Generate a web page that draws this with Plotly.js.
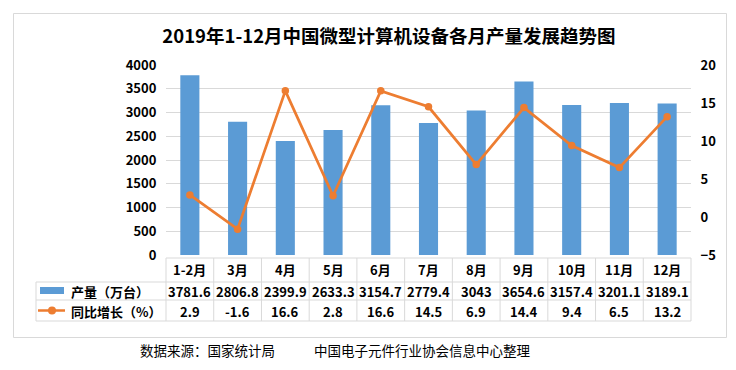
<!DOCTYPE html>
<html><head><meta charset="utf-8">
<script src="https://cdn.plot.ly/plotly-3.0.1.min.js"></script>
<style>html,body{margin:0;padding:0;background:#fff}#c{width:736px;height:370px}</style>
</head><body><div id="c"></div>
<script>
const categories = ['1-2月','3月','4月','5月','6月','7月','8月','9月','10月','11月','12月'];
const output = [3781.6, 2806.8, 2399.9, 2633.3, 3154.7, 2779.4, 3043, 3654.6, 3157.4, 3201.1, 3189.1];
const growth = [2.9, -1.6, 16.6, 2.8, 16.6, 14.5, 6.9, 14.4, 9.4, 6.5, 13.2];
const outputLabel = '产量（万台）';
const growthLabel = '同比增长（%）';
const titleText = '2019年1-12月中国微型计算机设备各月产量发展趋势图';
const sourceLeft = '数据来源：国家统计局';
const sourceRight = '中国电子元件行业协会信息中心整理';

const W = 736, H = 370, L = 166, R = 691, T = 65, B = 255;
const px = x => (x - L) / (R - L);
const py = y => (B - y) / (B - T);
const FONT = '"Noto Sans CJK SC", "Noto Sans", sans-serif';
const BLUE = '#5B9BD5', ORANGE = '#ED7D31', GRID = '#D9D9D9';

const shapes = [];
const line = (x0, y0, x1, y1, color, w) => shapes.push({type:'line', xref:'paper', yref:'paper',
  x0:px(x0), y0:py(y0), x1:px(x1), y1:py(y1), line:{color:color||GRID, width:w||1}, layer:'above'});
// outer frame
shapes.push({type:'rect', xref:'paper', yref:'paper', x0:px(13.5), y0:py(13.5), x1:px(726.5), y1:py(337.5),
  line:{color:GRID, width:1}, layer:'below'});
// table lines
const colW = (R - L) / categories.length;
line(L, 258, R, 258);
line(36, 282, R, 282);
line(36, 300, R, 300);
line(36, 321, R, 321);
line(36, 282, 36, 321);
for (let i = 0; i <= categories.length; i++) line(L + i * colW, 258, L + i * colW, 321);
// legend icons
shapes.push({type:'rect', xref:'paper', yref:'paper', x0:px(40), y0:py(287), x1:px(64), y1:py(294),
  fillcolor:BLUE, line:{width:0}});
line(38, 310.5, 65, 310.5, ORANGE, 2.5);
shapes.push({type:'circle', xref:'paper', yref:'paper', x0:px(48), y0:py(306.5), x1:px(56), y1:py(314.5),
  fillcolor:ORANGE, line:{width:0}});

const annotations = [];
const bold = (s) => '<b>' + s + '</b>';
categories.forEach((c, i) => {
  const xc = px(L + (i + 0.5) * colW);
  annotations.push({xref:'paper', yref:'paper', x:xc, y:py(269), text:bold(c), showarrow:false,
    font:{family:FONT, size:13, color:'#000'}, xanchor:'center', yanchor:'middle'});
  annotations.push({xref:'paper', yref:'paper', x:xc, y:py(291), text:bold(String(output[i])), showarrow:false,
    font:{family:FONT, size:13, color:'#000'}, xanchor:'center', yanchor:'middle'});
  annotations.push({xref:'paper', yref:'paper', x:xc, y:py(311), text:bold(String(growth[i])), showarrow:false,
    font:{family:FONT, size:13, color:'#000'}, xanchor:'center', yanchor:'middle'});
});
annotations.push({xref:'paper', yref:'paper', x:px(69), y:py(291), text:bold(outputLabel), showarrow:false,
  font:{family:FONT, size:13, color:'#000'}, xanchor:'left', yanchor:'middle'});
annotations.push({xref:'paper', yref:'paper', x:px(69), y:py(311), text:bold(growthLabel), showarrow:false,
  font:{family:FONT, size:13, color:'#000'}, xanchor:'left', yanchor:'middle'});
annotations.push({xref:'paper', yref:'paper', x:px(138), y:py(350), text:sourceLeft, showarrow:false,
  font:{family:FONT, size:13.5, color:'#000'}, xanchor:'left', yanchor:'middle'});
annotations.push({xref:'paper', yref:'paper', x:px(312), y:py(350), text:sourceRight, showarrow:false,
  font:{family:FONT, size:13.5, color:'#000'}, xanchor:'left', yanchor:'middle'});

const data = [
  {type:'bar', x:categories, y:output, marker:{color:BLUE}, width:0.4, name:outputLabel, yaxis:'y'},
  {type:'scatter', mode:'lines+markers', x:categories, y:growth, yaxis:'y2', name:growthLabel,
   line:{color:ORANGE, width:2.75}, marker:{color:ORANGE, size:7.5}}
];
const tickFont = {family:FONT, size:13, color:'#000', weight:'bold'};
const layout = {
  width:W, height:H, margin:{l:L, r:W-R, t:T, b:H-B},
  paper_bgcolor:'#fff', plot_bgcolor:'rgba(0,0,0,0)', showlegend:false,
  title:{text:bold(titleText), x:389/W, xref:'container', xanchor:'center', y:1-37/H, yanchor:'middle',
    font:{family:FONT, size:18.5, color:'#000'}},
  xaxis:{type:'category', showticklabels:false, showgrid:false, zeroline:false, showline:false, range:[-0.5, 10.5]},
  yaxis:{range:[0,4000], dtick:500, showgrid:true, gridcolor:GRID, zeroline:false, showline:false,
    tickfont:tickFont, ticks:'outside', ticklen:6, tickcolor:'rgba(0,0,0,0)'},
  yaxis2:{range:[-5,20], dtick:5, overlaying:'y', side:'right', showgrid:false, zeroline:false, showline:false,
    tickfont:tickFont, ticks:'outside', ticklen:6, tickcolor:'rgba(0,0,0,0)'},
  shapes:shapes, annotations:annotations
};
Plotly.newPlot('c', data, layout, {displayModeBar:false, staticPlot:true});
</script></body></html>
